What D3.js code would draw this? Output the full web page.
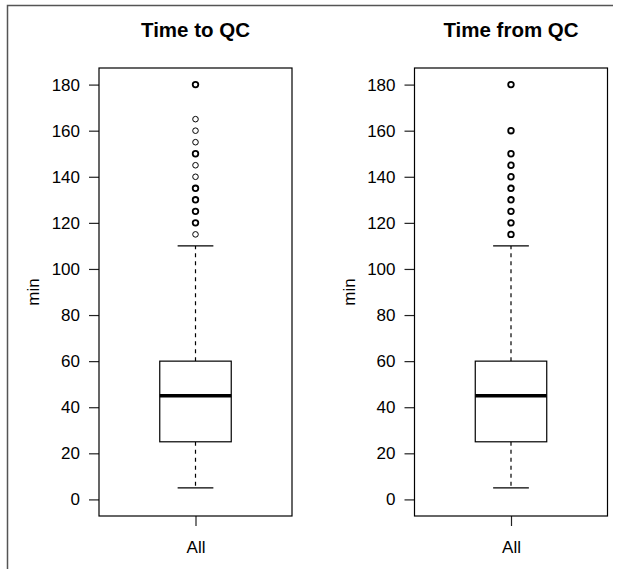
<!DOCTYPE html>
<html>
<head>
<meta charset="utf-8">
<script src="https://cdn.jsdelivr.net/npm/d3@7"></script>
<style>
  body { margin: 0; background: #fff; }
  svg text { font-family: "Liberation Sans", Arial, sans-serif; fill: #000; }
</style>
</head>
<body>
<div class="canvas"></div>
<script>
// data
const titles = ["Time to QC", "Time from QC"];
const categories = ["All"];
const yTicks = [0, 20, 40, 60, 80, 100, 120, 140, 160, 180];
const lowWhisker = [5, 5];
const q1 = [25, 25];
const medians = [45, 45];
const q3 = [60, 60];
const highWhisker = [110, 110];
const outliersTo = [115, 120, 125, 130, 135, 140, 145, 150, 155, 160, 165, 180];
const outlierCountTo = [1, 3, 2, 2, 2, 1, 1, 2, 1, 1, 1, 3];
const outliersFrom = [115, 120, 125, 130, 135, 140, 145, 150, 160, 180];
const outlierCountFrom = [2, 3, 2, 2, 2, 2, 2, 3, 2, 3];

const outliers = [outliersTo, outliersFrom];
const outlierCounts = [outlierCountTo, outlierCountFrom];

const width = 619, height = 569;

const svg = d3.select('.canvas')
  .append('svg')
    .attr('width', width)
    .attr('height', height);

svg.append('rect')
  .attr('width', width).attr('height', height)
  .attr('fill', '#fff');

// outer frame (left + top visible)
svg.append('path')
  .attr('d', 'M7.5,569 L7.5,5.5 L613,5.5')
  .attr('fill', 'none')
  .attr('stroke', '#555')
  .attr('stroke-width', 1.5);

// plot boxes for each panel
const plotTop = 68, plotBottom = 516;
const plotLefts = [99, 414.5];
const plotW = 193;

const y = d3.scaleLinear()
  .domain([-7.2, 187.2])
  .range([plotBottom, plotTop]);

titles.forEach((title, i) => {
  const left = plotLefts[i];
  const x = d3.scaleLinear()
    .domain([0.46, 1.54])
    .range([left, left + plotW]);

  const g = svg.append('g');

  // title
  g.append('text')
    .attr('x', left + plotW / 2)
    .attr('y', 37)
    .attr('text-anchor', 'middle')
    .style('font-size', '20.5px')
    .style('font-weight', 'bold')
    .text(title);

  // y label
  g.append('text')
    .attr('transform', `translate(${left - 60},${(plotTop + plotBottom) / 2}) rotate(-90)`)
    .attr('text-anchor', 'middle')
    .style('font-size', '17px')
    .text('min');

  // axes
  const yAxis = d3.axisLeft(y)
    .tickValues(yTicks)
    .tickSize(10)
    .tickPadding(9);
  const yAxisGroup = g.append('g')
    .attr('transform', `translate(${left},0)`)
    .call(yAxis);
  yAxisGroup.select('.domain').remove();
  yAxisGroup.selectAll('line').attr('stroke', '#222').attr('stroke-width', 1.2);
  yAxisGroup.selectAll('text')
    .attr('font-family', null)
    .style('font-size', '17px');

  const xAxis = d3.axisBottom(x)
    .tickValues([1])
    .tickFormat(() => categories[0])
    .tickSize(10)
    .tickPadding(15);
  const xAxisGroup = g.append('g')
    .attr('transform', `translate(0,${plotBottom})`)
    .call(xAxis);
  xAxisGroup.select('.domain').remove();
  xAxisGroup.selectAll('line').attr('stroke', '#222').attr('stroke-width', 1.2);
  xAxisGroup.selectAll('text')
    .attr('font-family', null)
    .style('font-size', '17px');

  // boxplot
  const cx = x(1);
  const halfBox = x(1.2) - cx;
  const halfCap = x(1.1) - cx;

  // whiskers
  g.append('line')
    .attr('x1', cx).attr('x2', cx)
    .attr('y1', y(q3[i])).attr('y2', y(highWhisker[i]))
    .attr('stroke', '#000').attr('stroke-width', 1.2)
    .attr('stroke-dasharray', '4,4');
  g.append('line')
    .attr('x1', cx).attr('x2', cx)
    .attr('y1', y(q1[i])).attr('y2', y(lowWhisker[i]))
    .attr('stroke', '#000').attr('stroke-width', 1.2)
    .attr('stroke-dasharray', '4,4');

  // caps
  [lowWhisker[i], highWhisker[i]].forEach(v => {
    g.append('line')
      .attr('x1', cx - halfCap).attr('x2', cx + halfCap)
      .attr('y1', y(v)).attr('y2', y(v))
      .attr('stroke', '#000').attr('stroke-width', 1.2);
  });

  // box
  g.append('rect')
    .attr('x', cx - halfBox)
    .attr('y', y(q3[i]))
    .attr('width', halfBox * 2)
    .attr('height', y(q1[i]) - y(q3[i]))
    .attr('fill', '#fff')
    .attr('stroke', '#000')
    .attr('stroke-width', 1.2);

  // median
  g.append('line')
    .attr('x1', cx - halfBox).attr('x2', cx + halfBox)
    .attr('y1', y(medians[i])).attr('y2', y(medians[i]))
    .attr('stroke', '#000').attr('stroke-width', 3.5);

  // outliers
  g.selectAll('circle')
    .data(outliers[i].map((v, k) => ({v: v, n: outlierCounts[i][k]})))
    .enter()
    .append('circle')
      .attr('cx', cx)
      .attr('cy', d => y(d.v))
      .attr('r', 2.8)
      .attr('fill', 'none')
      .attr('stroke', '#000')
      .attr('stroke-width', d => d.n > 1 ? 1.8 : 1);

  // plot frame
  g.append('rect')
    .attr('x', left)
    .attr('y', plotTop)
    .attr('width', plotW)
    .attr('height', plotBottom - plotTop)
    .attr('fill', 'none')
    .attr('stroke', '#000')
    .attr('stroke-width', 1.2);
});
</script>
</body>
</html>
